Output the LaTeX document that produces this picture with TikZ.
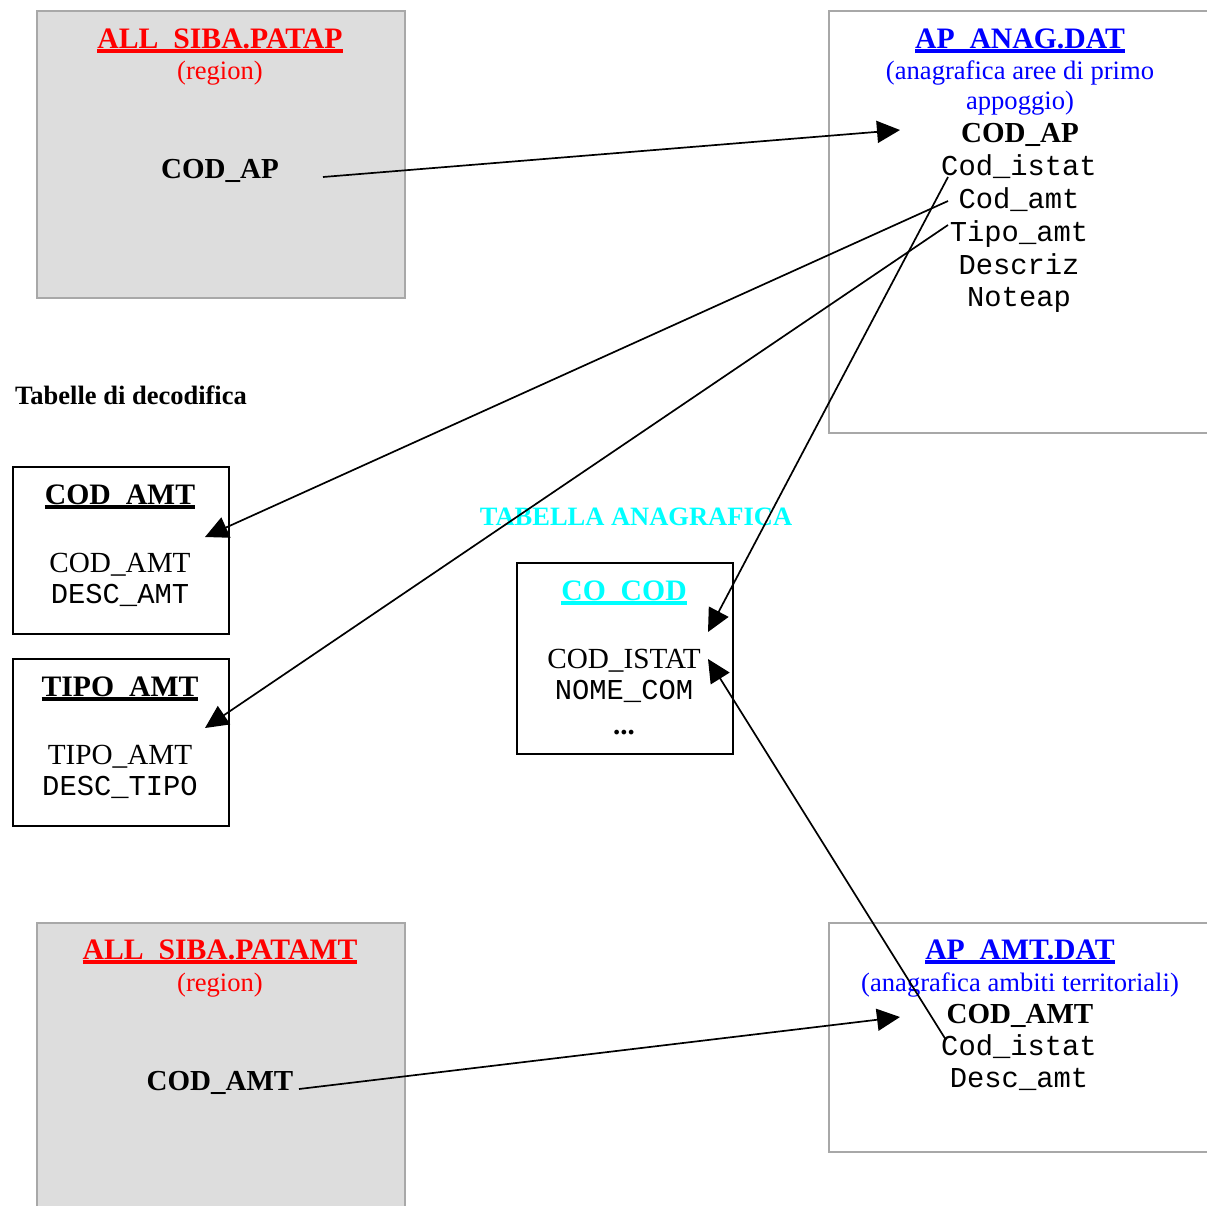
\documentclass[tikz,border=0pt]{standalone}
\usepackage{fontspec}
\setmainfont{Liberation Serif}
\setmonofont{Liberation Mono}
\usetikzlibrary{arrows.meta}
\definecolor{boxgray}{HTML}{DDDDDD}
\definecolor{edgegray}{HTML}{A8A8A8}
\definecolor{tcyan}{HTML}{00FFFF}
\newsavebox\ulbox
\newcommand{\myul}[1]{\sbox\ulbox{#1}\rlap{\rule[-4.6pt]{\wd\ulbox}{3.4pt}}\usebox\ulbox}
\tikzset{
  ttl/.style={font=\fontsize{29.7}{33}\selectfont\bfseries, anchor=base, inner sep=0pt},
  sub/.style={font=\fontsize{26.6}{30}\selectfont, anchor=base, inner sep=0pt},
  fld/.style={font=\fontsize{29.2}{33}\selectfont, anchor=base, inner sep=0pt},
  bfld/.style={font=\fontsize{29}{33}\selectfont\bfseries, anchor=base, inner sep=0pt},
  mono/.style={font=\fontsize{28.8}{33}\selectfont\ttfamily, anchor=base, inner sep=0pt},
  lbl/.style={font=\fontsize{26.5}{30}\selectfont\bfseries, anchor=base, inner sep=0pt},
  graybox/.style={draw=edgegray, fill=boxgray, line width=1.5pt, inner sep=0pt, anchor=north west},
  whitebox/.style={draw=edgegray, fill=white, line width=1.5pt, inner sep=0pt, anchor=north west},
  tablebox/.style={draw=black, fill=white, line width=1.8pt, inner sep=0pt, anchor=north west},
  arr/.style={-{Triangle[length=23pt,width=22pt]}, line width=1.7pt, black},
}
\begin{document}
\begin{tikzpicture}[x=1pt,y=-1pt]
\useasboundingbox (0,0) rectangle (1207,1205);
\clip (0,0) rectangle (1207,1205);
% boxes
\node[graybox, minimum width=368pt, minimum height=287pt] (patap) at (36,10) {};
\node[whitebox, minimum width=387pt, minimum height=422pt] (anag) at (828,10) {};
\node[tablebox, minimum width=216pt, minimum height=167pt] (codamt) at (12,466) {};
\node[tablebox, minimum width=216pt, minimum height=167pt] (tipoamt) at (12,658) {};
\node[tablebox, minimum width=216pt, minimum height=191pt] (cocod) at (516,562) {};
\node[graybox, minimum width=368pt, minimum height=300pt] (patamt) at (36,922) {};
\node[whitebox, minimum width=387pt, minimum height=229pt] (apamt) at (828,922) {};

% texts: ALL_SIBA.PATAP
\node[ttl, text=red] (patapT) at (220,48) {\myul{ALL\_SIBA.PATAP}};
\node[sub, text=red] (patapR) at (220,79) {(region)};
\node[bfld] (patapF) at (220,178) {COD\_AP};

% AP_ANAG.DAT
\node[ttl, text=blue] (anagT) at (1020,48) {\myul{AP\_ANAG.DAT}};
\node[sub, text=blue] (anagS1) at (1020,79) {(anagrafica aree di primo};
\node[sub, text=blue] (anagS2) at (1020,109) {appoggio)};
\node[bfld] (anagK) at (1020,142) {COD\_AP};
\node[mono] (anagF1) at (1019,175) {Cod\_istat};
\node[mono] (anagF2) at (1019,208) {Cod\_amt};
\node[mono] (anagF3) at (1019,241) {Tipo\_amt};
\node[mono] (anagF4) at (1019,274) {Descriz};
\node[mono] (anagF5) at (1019,306) {Noteap};

% labels
\node[lbl, anchor=base west] (dec) at (15,404) {Tabelle di decodifica};
\node[lbl, text=tcyan] (tab) at (636,525) {TABELLA ANAGRAFICA};

% COD_AMT table
\node[ttl] (codamtT) at (120,504) {\myul{COD\_AMT}};
\node[fld] (codamtF1) at (120,572) {COD\_AMT};
\node[mono] (codamtF2) at (120,603) {DESC\_AMT};

% TIPO_AMT table
\node[ttl] (tipoamtT) at (120,696) {\myul{TIPO\_AMT}};
\node[fld] (tipoamtF1) at (120,764) {TIPO\_AMT};
\node[mono] (tipoamtF2) at (120,795) {DESC\_TIPO};

% CO_COD table
\node[ttl, text=tcyan] (cocodT) at (624,600) {\myul{CO\_COD}};
\node[fld] (cocodF1) at (624,668) {COD\_ISTAT};
\node[mono] (cocodF2) at (624,699) {NOME\_COM};
\node[bfld] (cocodF3) at (624,734) {...};

% ALL_SIBA.PATAMT
\node[ttl, text=red] (patamtT) at (220,959) {\myul{ALL\_SIBA.PATAMT}};
\node[sub, text=red] (patamtR) at (220,991) {(region)};
\node[bfld] (patamtF) at (220,1090) {COD\_AMT};

% AP_AMT.DAT
\node[ttl, text=blue] (apamtT) at (1020,959) {\myul{AP\_AMT.DAT}};
\node[sub, text=blue] (apamtS) at (1020,991) {(anagrafica ambiti territoriali)};
\node[bfld] (apamtK) at (1020,1023) {COD\_AMT};
\node[mono] (apamtF1) at (1019,1055) {Cod\_istat};
\node[mono] (apamtF2) at (1019,1087) {Desc\_amt};

% connector end points
\coordinate (a1s) at (323,177);
\coordinate (a1e) at (900,130);
\coordinate (a2s) at (948,201);
\coordinate (a2e) at (205,537);
\coordinate (a3s) at (948,225);
\coordinate (a3e) at (205,728);
\coordinate (a4s) at (948,177);
\coordinate (a4e) at (708,632);
\coordinate (a5s) at (946,1040);
\coordinate (a5e) at (708,659);
\coordinate (a6s) at (299,1089);
\coordinate (a6e) at (900,1017);

\draw[arr] (a1s) -- (a1e);
\draw[arr] (a2s) -- (a2e);
\draw[arr] (a3s) -- (a3e);
\draw[arr] (a4s) -- (a4e);
\draw[arr] (a5s) -- (a5e);
\draw[arr] (a6s) -- (a6e);
\end{tikzpicture}
\end{document}
